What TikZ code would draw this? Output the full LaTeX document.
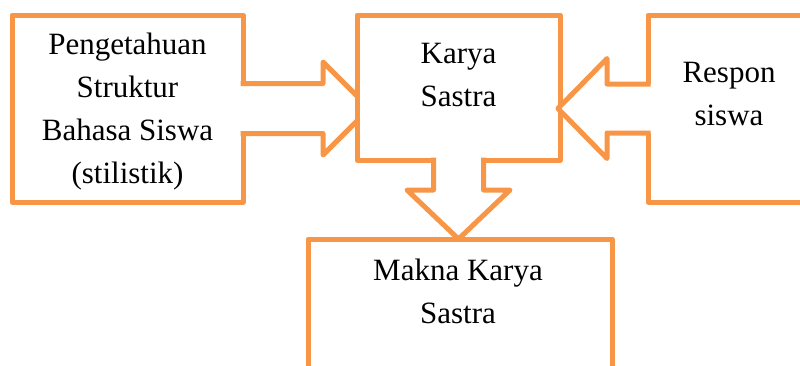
\documentclass[tikz,border=0pt]{standalone}
\usepackage{fontspec}
\setmainfont{Liberation Serif}
\usetikzlibrary{calc}
\definecolor{boxorange}{HTML}{F79646}
\begin{document}
\begin{tikzpicture}[x=1pt,y=-1pt,
  box/.style={draw=boxorange, fill=white, line width=5pt, line join=round,
    rectangle, inner sep=0pt, outer sep=0pt},
  lbl/.style={align=center, inner sep=0pt, font=\fontsize{31}{43}\selectfont},
  arrowline/.style={draw=boxorange, line width=5pt, line join=round},
  % block arrow pointing along +x: shaft length / head length / head half-width / shaft half-width
  pics/blockarrow/.style args={#1/#2/#3/#4}{code={
    \fill[white] (-4,-#4) -- (#1,-#4) -- (#1,-#3) -- ({#1+#2},0) -- (#1,#3) -- (#1,#4) -- (-4,#4) -- cycle;
    \draw[arrowline] (-2.5,-#4) -- (#1,-#4) -- (#1,-#3) -- ({#1+#2},0) -- (#1,#3) -- (#1,#4) -- (-2.5,#4);
  }}]
\useasboundingbox (0,0) rectangle (800,365);
\clip (0,0) rectangle (800,365);

% boxes
\node[box, minimum width=231pt, minimum height=187pt] (know) at (127.5,108.5) {};
\node[box, minimum width=170pt, minimum height=187pt] (respon) at (733,108.5) {};
\node[box, minimum width=304pt, minimum height=170pt] (makna) at (460,324) {};

% knowledge -> literary work (tip runs under the centre box)
\pic at (know.east) {blockarrow=80/46.5/46.5/25};

\node[box, minimum width=203pt, minimum height=145pt] (karya) at (458.5,87.5) {};

% literary work -> meaning
\pic[rotate=-90] at (karya.south) {blockarrow=30/49/51.5/25};
% student response -> literary work
\pic[rotate=180] at (respon.west) {blockarrow=41/49/50/24.5};

% texts
\node[lbl] (knowtext) at (127.5,112) {Pengetahuan\\Struktur\\Bahasa Siswa\\(stilistik)};
\node[lbl] (karyatext) at (458.5,74.5) {Karya\\Sastra};
\node[lbl] (respontext) at (729,93.5) {Respon\\siswa};
\node[lbl] (maknatext) at (458,291) {Makna Karya\\Sastra};
\end{tikzpicture}
\end{document}
